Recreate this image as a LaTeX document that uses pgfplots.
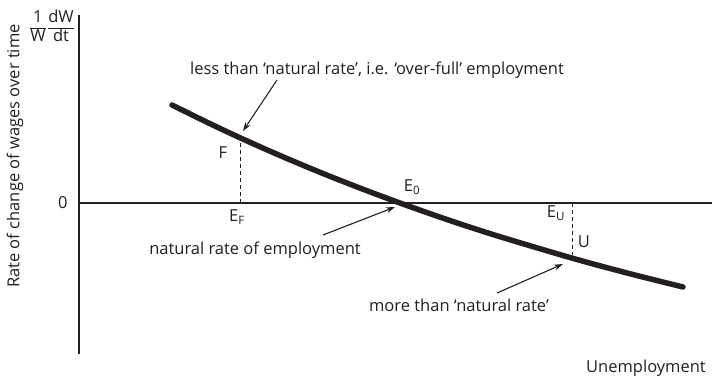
\documentclass[border=0pt]{standalone}
\usepackage{fontspec}
\setmainfont{Open Sans}
\usepackage{pgfplots}
\pgfplotsset{compat=1.18}
\usetikzlibrary{arrows.meta}
\definecolor{ink}{RGB}{35,31,32}
% small upright fraction set in the text font
\newcommand{\tfr}[2]{\begin{tabular}{@{}c@{}}#1\\\hline#2\end{tabular}}
\begin{document}
\begin{tikzpicture}[font=\fontsize{16.5}{19}\selectfont, color=ink]
\begin{axis}[
    x=1pt, y=1pt,
    xmin=0, xmax=633, ymin=-151, ymax=188,
    axis x line=middle, axis y line=left,
    axis line style={line width=2.6pt, -, ink},
    xtick=\empty, ytick={0}, major tick length=0,
    hide obscured y ticks=false,
    yticklabel style={xshift=-8pt, text=ink},
    /pgf/number format/assume math mode=true,
    clip=false,
]
% wage-change curve
\addplot[line width=5.5pt, ink, smooth, line cap=round] coordinates {
    (93,98) (130,79.8) (162,64.8) (200,47.9) (241,30.7) (280,15.3)
    (321,0) (370,-17.2) (420,-33.4) (493,-55.1) (550,-70.5) (604,-84)
};
% dashed drop lines
\addplot[line width=0.9pt, ink, dash pattern=on 4pt off 3pt] coordinates {(161,0) (161,63)};
\addplot[line width=0.9pt, ink, dash pattern=on 4pt off 3pt] coordinates {(493,0) (493,-52)};

\node[anchor=base] at (axis cs:298,128) {less than ‘natural rate’, i.e. ‘over-full’ employment};
\node[anchor=base] at (axis cs:176,-52) {natural rate of employment};
\node[anchor=base] at (axis cs:380,-109) {more than ‘natural rate’};
\node[anchor=base] at (axis cs:567,-170) {Unemployment};

\draw[-{Stealth[length=9pt,width=6pt]}, line width=1.1pt] (axis cs:198,123) -- (axis cs:164,72);
\draw[-{Stealth[length=9pt,width=6pt]}, line width=1.1pt] (axis cs:244,-32) -- (axis cs:316,-4);
\draw[-{Stealth[length=9pt,width=6pt]}, line width=1.1pt] (axis cs:418,-90) -- (axis cs:484,-61);

\node at (axis cs:144,50) {F};
\node at (axis cs:158,-14) {E\textsubscript{F}};
\node at (axis cs:333,16) {E\textsubscript{0}};
\node at (axis cs:477,-10) {E\textsubscript{U}};
\node at (axis cs:505,-39) {U};

\node[rotate=90] at (axis cs:-64,47) {Rate of change of wages over time};
\node[inner sep=0pt] at (axis cs:-27,175) {\tfr{1}{W}\,\tfr{dW}{dt}};

\coordinate (bl) at (axis cs:-79,-180);
\coordinate (tr) at (axis cs:634,203);
\end{axis}
\pgfresetboundingbox
\path (bl) rectangle (tr);
\end{tikzpicture}
\end{document}
